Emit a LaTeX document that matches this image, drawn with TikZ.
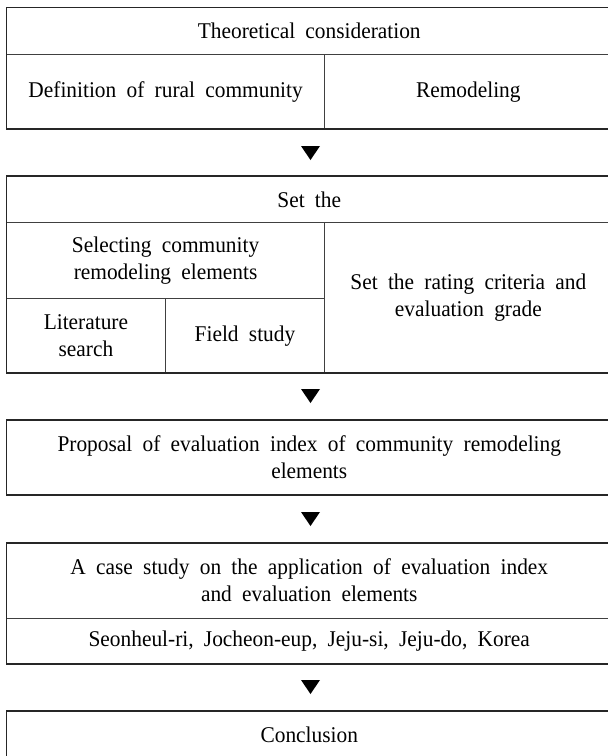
\documentclass[tikz,border=0pt]{standalone}
\usepackage{fontspec}
\setmainfont{Liberation Serif}[FakeStretch=0.95]
\protected\def\widesp{\spaceskip=10.3pt\relax}
\begin{document}
\begin{tikzpicture}[x=1pt,y=-1pt,
  txt/.style={font=\fontsize{22.5}{27}\selectfont\widesp, align=center, inner sep=0pt},
  cell/.style={txt, draw=black!75, line width=0.9pt},
  frame/.style={draw=black!85, line width=1.8pt, inner sep=0pt},
  tri/.style={fill=black}
]
\clip (0,0) rectangle (608,756);
\useasboundingbox (0,0) rectangle (608,756);

% Box 1
\node[cell, minimum width=605.5pt, minimum height=46.5pt] (t1) at (309.25,30.75) {Theoretical consideration};
\node[cell, minimum width=318.2pt, minimum height=75.3pt] (c1a) at (165.6,91.65) {Definition of rural community};
\node[cell, minimum width=287.3pt, minimum height=75.3pt] (c1b) at (468.35,91.65) {Remodeling};
\node[frame, minimum width=605.5pt, minimum height=121.8pt] (b1) at (309.25,68.4) {};

\coordinate (a1) at (310.5,153);
\fill[tri] (a1) ++(-9.5,-7) -- ++(19,0) -- ++(-9.5,14) -- cycle;

% Box 2
\node[cell, minimum width=605.5pt, minimum height=46.7pt] (t2) at (309.25,199.35) {Set the};
\node[cell, minimum width=318.2pt, minimum height=76pt] (s2) at (165.6,260.7) {Selecting community\\remodeling elements};
\node[cell, minimum width=158.8pt, minimum height=74.3pt] (l2) at (85.9,335.85) {Literature\\search};
\node[cell, minimum width=159.4pt, minimum height=74.3pt] (f2) at (245,335.85) {Field study};
\node[cell, minimum width=287.3pt, minimum height=150.3pt] (r2) at (468.35,297.85) {Set the rating criteria and\\evaluation grade};
\node[frame, minimum width=605.5pt, minimum height=197pt] (b2) at (309.25,274.5) {};

\coordinate (a2) at (310.5,396);
\fill[tri] (a2) ++(-9.5,-7) -- ++(19,0) -- ++(-9.5,14) -- cycle;

% Box 3
\node[cell, minimum width=605.5pt, minimum height=75.3pt] (p3) at (309.25,457.65) {Proposal of evaluation index of community remodeling\\elements};
\node[frame, minimum width=605.5pt, minimum height=75.3pt] (b3) at (309.25,457.65) {};

\coordinate (a3) at (310.5,519);
\fill[tri] (a3) ++(-9.5,-7) -- ++(19,0) -- ++(-9.5,14) -- cycle;

% Box 4
\node[cell, minimum width=605.5pt, minimum height=75.3pt] (t4) at (309.25,580.35) {A case study on the application of evaluation index\\and evaluation elements};
\node[cell, minimum width=605.5pt, minimum height=46pt] (s4) at (309.25,641) {Seonheul-ri, Jocheon-eup, Jeju-si, Jeju-do, Korea};
\node[frame, minimum width=605.5pt, minimum height=121.3pt] (b4) at (309.25,603.35) {};

\coordinate (a4) at (310.5,687);
\fill[tri] (a4) ++(-9.5,-7) -- ++(19,0) -- ++(-9.5,14) -- cycle;

% Box 5
\node[cell, minimum width=605.5pt, minimum height=48pt] (c5) at (309.25,735) {Conclusion};
\node[frame, minimum width=605.5pt, minimum height=48pt] (b5) at (309.25,735) {};
\end{tikzpicture}
\end{document}
